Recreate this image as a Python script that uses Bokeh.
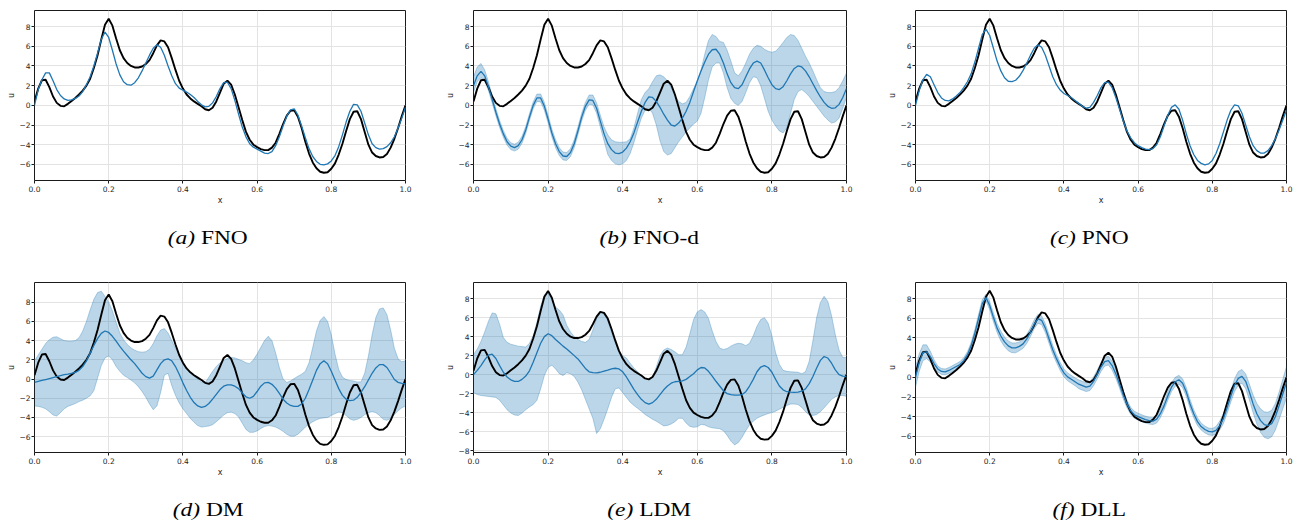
from bokeh.plotting import figure
from bokeh.models import Range1d, FixedTicker, Div
from bokeh.layouts import column, row
from bokeh.embed import file_html
from bokeh.resources import INLINE

# ---------------- data ----------------
X = [round(i * 0.01, 2) for i in range(101)]

TRUE_U = [0.4, 1.7, 2.55, 2.6, 1.85, 0.9, 0.25, -0.05, -0.1, 0.15,
          0.45, 0.75, 1.1, 1.5, 2.0, 2.7, 3.8, 5.1, 6.7, 8.2,
          8.8, 8.1, 6.8, 5.6, 4.8, 4.3, 4.0, 3.85, 3.85, 3.95,
          4.2, 4.6, 5.3, 6.1, 6.6, 6.5, 5.9, 4.8, 3.6, 2.5,
          1.7, 1.1, 0.7, 0.4, 0.15, -0.1, -0.4, -0.5, -0.25, 0.4,
          1.3, 2.2, 2.5, 2.1, 1.1, -0.2, -1.5, -2.7, -3.5, -4.0,
          -4.25, -4.45, -4.55, -4.55, -4.3, -3.8, -2.9, -1.9, -1.05, -0.55,
          -0.5, -1.15, -2.3, -3.7, -4.9, -5.8, -6.4, -6.75, -6.85, -6.8,
          -6.45, -5.9, -5.0, -3.9, -2.6, -1.4, -0.65, -0.6, -1.4, -2.7,
          -4.0, -4.8, -5.15, -5.3, -5.25, -4.95, -4.3, -3.4, -2.3, -1.1,
          0.0]

FNO_MEAN = [0.0, 1.6, 2.6, 3.3, 3.3, 2.5, 1.6, 1.0, 0.65, 0.5,
            0.55, 0.7, 0.95, 1.4, 2.1, 2.9, 4.0, 5.3, 6.7, 7.45,
            6.9, 5.6, 4.2, 3.1, 2.4, 2.1, 2.05, 2.3, 2.8, 3.5,
            4.3, 5.1, 5.8, 6.15, 5.9, 5.1, 4.0, 3.0, 2.2, 1.75,
            1.55, 1.35, 1.1, 0.8, 0.4, 0.05, -0.15, -0.1, 0.25, 0.9,
            1.7, 2.3, 2.35, 1.7, 0.5, -0.9, -2.2, -3.2, -3.9, -4.25,
            -4.45, -4.65, -4.85, -4.9, -4.7, -4.1, -3.2, -2.1, -1.1, -0.45,
            -0.35, -1.0, -2.1, -3.3, -4.4, -5.2, -5.7, -6.0, -6.05, -5.95,
            -5.65, -5.1, -4.2, -3.0, -1.7, -0.6, 0.1, 0.05, -0.6, -1.8,
            -3.0, -3.9, -4.3, -4.45, -4.4, -4.2, -3.8, -3.2, -2.3, -1.3,
            -0.2]

FNOD_MEAN = [2.0, 3.0, 3.45, 3.0, 1.9, 0.6, -0.7, -1.9, -2.9, -3.7,
             -4.15, -4.3, -4.1, -3.5, -2.5, -1.2, 0.0, 0.75, 0.75, -0.1,
             -1.4, -2.8, -3.9, -4.7, -5.15, -5.2, -4.8, -3.9, -2.6, -1.2,
             -0.1, 0.55, 0.5, -0.3, -1.6, -2.9, -3.9, -4.5, -4.85, -4.9,
             -4.75, -4.35, -3.7, -2.8, -1.7, -0.6, 0.3, 0.85, 0.8, 0.4,
             -0.2, -0.9, -1.5, -2.0, -2.1, -1.8, -1.3, -0.6, 0.3, 1.4,
             2.5, 3.5, 4.4, 5.2, 5.65, 5.7, 5.2, 4.3, 3.2, 2.3,
             1.8, 1.7, 2.1, 2.9, 3.7, 4.3, 4.5, 4.3, 3.6, 2.8,
             2.1, 1.7, 1.6, 1.9, 2.5, 3.2, 3.75, 4.0, 3.9, 3.5,
             2.9, 2.2, 1.5, 0.85, 0.3, -0.1, -0.3, -0.25, 0.1, 0.8,
             1.7]
FNOD_LOW = [1.3, 2.4, 2.8, 2.5, 1.5, 0.25, -1.05, -2.25, -3.25, -4.05,
            -4.5, -4.65, -4.45, -3.85, -2.85, -1.55, -0.35, 0.4, 0.35, -0.5,
            -1.8, -3.2, -4.3, -5.1, -5.55, -5.6, -5.2, -4.3, -3.0, -1.6,
            -0.5, 0.1, 0.05, -0.8, -2.2, -3.6, -5.0, -5.6, -5.95, -6.05,
            -5.95, -5.6, -4.9, -3.8, -2.5, -1.3, -0.5, -0.3, -0.8, -2.0,
            -3.6, -4.7, -5.05, -4.9, -4.3, -3.7, -3.2, -2.7, -2.3, -1.9,
            -1.6, -0.8, 0.8, 2.6, 3.9, 4.3, 4.3, 3.3, 1.8, 0.7,
            0.2, 0.0, 0.4, 1.3, 2.3, 2.9, 2.8, 2.0, 0.7, -0.6,
            -1.5, -2.1, -2.6, -2.8, -2.3, -0.8, 0.6, 1.4, 1.6, 1.3,
            0.9, 0.4, -0.1, -0.6, -1.1, -1.5, -1.8, -1.7, -1.3, -0.3,
            0.8]
FNOD_HIGH = [2.9, 3.9, 4.25, 3.6, 2.4, 1.0, -0.35, -1.55, -2.55, -3.35,
             -3.8, -3.95, -3.75, -3.15, -2.15, -0.85, 0.35, 1.15, 1.15, 0.3,
             -1.0, -2.4, -3.5, -4.3, -4.75, -4.8, -4.4, -3.5, -2.2, -0.8,
             0.3, 1.05, 1.05, 0.25, -1.0, -2.2, -3.0, -3.5, -3.7, -3.75,
             -3.75, -3.7, -3.4, -2.3, -0.8, 0.6, 1.3, 1.7, 2.4, 3.0,
             3.1, 2.9, 2.5, 1.8, 1.0, 0.4, 0.15, 0.3, 0.9, 1.7,
             2.4, 3.6, 5.2, 6.6, 7.2, 7.0, 6.5, 6.4, 5.6, 4.5,
             3.3, 3.0, 3.5, 4.3, 5.2, 5.8, 6.1, 6.0, 5.7, 5.5,
             5.4, 5.5, 5.9, 6.4, 6.9, 7.2, 7.1, 6.6, 5.8, 5.0,
             4.3, 3.5, 2.6, 1.8, 1.4, 1.3, 1.3, 1.4, 1.8, 2.5,
             3.3]

PNO_MEAN = [0.0, 1.5, 2.6, 3.15, 2.9, 2.1, 1.3, 0.75, 0.5, 0.45,
            0.65, 0.95, 1.3, 1.8, 2.4, 3.2, 4.4, 5.8, 7.2, 7.75,
            7.1, 5.8, 4.5, 3.5, 2.8, 2.45, 2.4, 2.55, 2.95, 3.55,
            4.3, 5.1, 5.8, 6.15, 5.9, 5.1, 4.0, 2.9, 2.1, 1.55,
            1.2, 1.0, 0.8, 0.5, 0.2, -0.1, -0.28, -0.2, 0.3, 1.0,
            1.8, 2.3, 2.35, 1.8, 0.8, -0.4, -1.6, -2.6, -3.3, -3.8,
            -4.1, -4.3, -4.45, -4.5, -4.4, -4.0, -3.2, -2.1, -1.0, -0.2,
            0.05, -0.4, -1.5, -2.9, -4.1, -5.0, -5.6, -5.9, -6.05, -5.95,
            -5.6, -4.9, -3.9, -2.7, -1.5, -0.5, 0.05, -0.05, -0.8, -2.0,
            -3.2, -4.1, -4.6, -4.85, -4.85, -4.6, -4.1, -3.4, -2.5, -1.5,
            -0.5]

DM_MEAN = [-0.35, -0.25, -0.15, -0.05, 0.05, 0.15, 0.25, 0.35, 0.45, 0.5,
           0.6, 0.7, 0.9, 1.3, 1.9, 2.7, 3.5, 4.2, 4.75, 5.0,
           4.85, 4.45, 3.95, 3.4, 2.9, 2.45, 2.0, 1.6, 1.1, 0.6,
           0.25, 0.1, 0.3, 0.95, 1.6, 2.0, 2.1, 1.9, 1.3, 0.5,
           -0.4, -1.2, -1.9, -2.45, -2.8, -2.95, -2.85, -2.55, -2.1, -1.6,
           -1.1, -0.75, -0.6, -0.6, -0.75, -1.0, -1.45, -1.85, -2.0, -1.8,
           -1.3, -0.75, -0.4, -0.35, -0.55, -0.95, -1.5, -2.1, -2.5, -2.75,
           -2.85, -2.85, -2.6, -2.0, -1.1, -0.1, 0.9, 1.6, 1.9, 1.6,
           0.8, -0.1, -1.0, -1.7, -2.1, -2.25, -2.2, -1.9, -1.4, -0.8,
           -0.1, 0.6, 1.15, 1.5, 1.5, 1.2, 0.6, -0.05, -0.35, -0.45,
           -0.5]
DM_HIGH = [1.9, 2.5, 3.1, 3.7, 4.1, 4.35, 4.4, 4.2, 4.0, 3.95,
           3.95, 4.0, 4.3, 5.0, 6.0, 7.2, 8.3, 9.0, 9.15, 8.6,
           8.0, 7.1, 5.9, 4.8, 4.1, 3.6, 3.25, 3.0, 2.85, 2.8,
           2.85, 3.1, 3.7, 4.5, 5.1, 5.25, 4.8, 4.0, 3.2, 2.5,
           1.8, 1.1, 0.7, 0.35, 0.0, -0.35, -0.4, 0.2, 0.8, 1.3,
           1.7, 1.95, 2.15, 2.25, 2.2, 2.05, 1.9, 1.7, 1.6, 2.0,
           2.6, 3.3, 4.0, 4.45, 4.0, 2.7, 1.2, 0.0, -0.35, -0.2,
           0.05, 0.3, 0.5, 0.8, 1.7, 3.3, 5.0, 6.1, 6.5, 6.0,
           4.6, 2.6, 1.0, 0.2, -0.05, -0.15, -0.2, -0.3, -0.3, 0.6,
           2.4, 4.6, 6.4, 7.3, 7.4, 6.7, 5.1, 3.2, 2.1, 1.8,
           1.9]
DM_LOW = [-2.8, -2.85, -2.95, -3.1, -3.4, -3.75, -3.85, -3.5, -3.1, -2.85,
          -2.7, -2.55, -2.35, -2.2, -2.0, -1.75, -1.2, 0.1, 1.4, 2.2,
          2.4, 2.0, 1.3, 0.8, 0.4, 0.15, -0.1, -0.4, -0.8, -1.3,
          -1.9, -2.6, -3.2, -2.8, -1.4, 0.4, 0.6, -0.7, -1.7, -2.5,
          -3.1, -3.6, -4.1, -4.5, -4.85, -5.0, -4.95, -4.9, -4.75, -4.45,
          -4.1, -3.75, -3.5, -3.45, -3.6, -3.95, -4.6, -5.25, -5.55, -5.55,
          -5.4, -5.15, -4.95, -4.85, -4.9, -5.0, -5.2, -5.45, -5.75, -5.95,
          -5.95, -5.75, -5.4, -5.0, -4.7, -4.45, -4.25, -4.1, -4.05, -4.0,
          -3.8, -3.6, -3.45, -3.5, -3.8, -4.15, -4.3, -4.2, -4.0, -3.7,
          -3.5, -3.4, -3.5, -3.8, -4.2, -4.3, -4.1, -3.7, -3.3, -3.0,
          -2.8]

LDM_MEAN = [0.0, 0.45, 0.95, 1.55, 2.05, 2.15, 1.7, 0.95, 0.25, -0.25,
            -0.55, -0.72, -0.72, -0.5, -0.15, 0.4, 1.3, 2.3, 3.3, 4.0,
            4.3, 4.1, 3.7, 3.35, 3.0, 2.7, 2.35, 2.0, 1.65, 1.15,
            0.65, 0.3, 0.2, 0.18, 0.25, 0.38, 0.48, 0.6, 0.67, 0.6,
            0.3, -0.25, -0.9, -1.55, -2.1, -2.6, -2.95, -3.1, -2.95, -2.6,
            -2.1, -1.6, -1.2, -0.9, -0.75, -0.7, -0.65, -0.5, -0.2, 0.1,
            0.5, 0.75, 0.7, 0.35, -0.15, -0.7, -1.2, -1.7, -2.0, -2.1,
            -2.15, -2.15, -2.1, -1.8, -1.2, -0.5, 0.3, 0.8, 0.95, 0.75,
            0.25, -0.5, -1.2, -1.6, -1.8, -1.85, -1.86, -1.85, -1.75, -1.5,
            -0.95, -0.2, 0.7, 1.5, 1.9, 1.75, 1.2, 0.5, 0.0, -0.15,
            -0.2]
LDM_HIGH = [2.1, 2.7, 3.5, 4.5, 5.6, 6.5, 6.4, 5.3, 3.9, 3.4,
            3.2, 3.1, 3.0, 2.95, 2.9, 3.3, 4.1, 5.5, 7.2, 8.4,
            8.6, 7.8, 7.1, 6.8, 6.3, 5.2, 4.5, 4.0, 3.7, 3.5,
            3.4, 3.7, 4.7, 5.9, 6.55, 6.4, 5.7, 4.5, 3.4, 2.5,
            2.0, 1.75, 1.2, 0.7, 0.3, -0.1, -0.4, -0.5, -0.2, 0.8,
            2.0, 2.6, 2.8, 2.65, 2.4, 2.1, 2.1, 2.9, 4.3, 5.8,
            6.6, 6.85, 6.6, 5.9, 4.6, 3.5, 2.8, 2.65, 2.75, 3.0,
            3.2, 3.3, 3.25, 3.05, 3.3, 4.1, 5.1, 5.8, 6.0, 5.4,
            4.1, 2.3, 1.1, 0.45, 0.35, 0.3, 0.28, 0.25, 0.1, 0.3,
            1.4, 3.6, 6.0, 7.6, 8.25, 7.7, 6.2, 4.2, 2.6, 1.8,
            1.8]
LDM_LOW = [-1.9, -2.1, -2.2, -2.25, -2.3, -2.35, -2.4, -2.7, -3.2, -3.7,
           -4.05, -4.25, -4.3, -4.05, -3.7, -3.4, -3.15, -2.7, -1.5, -0.1,
           0.75, 1.0, 0.6, 0.1, -0.1, 0.2, 0.1, -0.2, -0.8, -1.6,
           -2.6, -3.6, -4.6, -6.2, -5.7, -4.7, -3.6, -2.4, -1.5, -1.4,
           -1.9, -2.4, -2.9, -3.25, -3.55, -3.85, -4.2, -4.45, -4.7, -4.9,
           -5.15, -5.4, -5.35, -5.2, -4.95, -4.6, -4.6, -5.1, -5.45, -5.55,
           -5.5, -5.25, -5.3, -5.5, -5.6, -5.65, -5.7, -5.9, -6.4, -7.0,
           -7.4, -7.15, -6.6, -5.9, -5.3, -4.9, -4.6, -4.4, -4.25, -4.1,
           -4.0, -3.85, -3.65, -3.45, -3.25, -3.1, -3.1, -3.15, -3.45, -3.9,
           -4.25, -4.3, -4.2, -3.9, -3.5, -3.05, -2.6, -2.35, -2.2, -2.2,
           -2.3]

DLL_MEAN = [0.0, 1.5, 2.5, 2.6, 2.1, 1.4, 0.85, 0.6, 0.55, 0.7,
            0.9, 1.1, 1.3, 1.7, 2.3, 3.2, 4.5, 6.0, 7.5, 8.1,
            7.3, 6.1, 5.0, 4.2, 3.6, 3.2, 3.0, 3.0, 3.15, 3.4,
            3.9, 4.6, 5.4, 5.95, 5.8, 5.0, 3.9, 2.8, 1.9, 1.1,
            0.45, 0.05, -0.2, -0.45, -0.7, -0.85, -1.0, -0.9, -0.4, 0.3,
            1.05, 1.6, 1.7, 1.2, 0.35, -0.7, -1.8, -2.7, -3.4, -3.8,
            -4.0, -4.15, -4.3, -4.4, -4.45, -4.25, -3.7, -2.9, -1.9, -1.0,
            -0.45, -0.25, -0.6, -1.5, -2.7, -3.7, -4.5, -5.0, -5.3, -5.5,
            -5.55, -5.4, -4.9, -4.2, -3.1, -1.9, -0.8, -0.1, 0.1, -0.4,
            -1.5, -2.7, -3.7, -4.4, -4.8, -4.9, -4.7, -4.0, -2.9, -1.7,
            -0.5]
DLL_SPREAD = [1.0, 0.9, 0.8, 0.7, 0.55, 0.4, 0.3, 0.3, 0.3, 0.3,
              0.3, 0.3, 0.3, 0.3, 0.3, 0.35, 0.35, 0.4, 0.4, 0.35,
              0.4, 0.45, 0.45, 0.5, 0.5, 0.5, 0.5, 0.5, 0.45, 0.45,
              0.45, 0.45, 0.45, 0.45, 0.45, 0.45, 0.45, 0.45, 0.4, 0.4,
              0.4, 0.4, 0.4, 0.4, 0.45, 0.45, 0.45, 0.45, 0.45, 0.45,
              0.45, 0.45, 0.45, 0.45, 0.45, 0.4, 0.4, 0.4, 0.35, 0.35,
              0.35, 0.35, 0.35, 0.35, 0.35, 0.4, 0.4, 0.4, 0.45, 0.45,
              0.45, 0.45, 0.45, 0.45, 0.45, 0.4, 0.4, 0.35, 0.35, 0.35,
              0.35, 0.4, 0.45, 0.5, 0.55, 0.6, 0.65, 0.7, 0.7, 0.75,
              0.8, 0.9, 1.05, 1.2, 1.3, 1.35, 1.35, 1.35, 1.4, 1.5,
              1.6]

X_TICKS = [0.0, 0.2, 0.4, 0.6, 0.8, 1.0]
X_LABELS = ["0.0", "0.2", "0.4", "0.6", "0.8", "1.0"]
Y_TICKS = [-8, -6, -4, -2, 0, 2, 4, 6, 8]
Y_LABELS = ["\u22128", "\u22126", "\u22124", "\u22122", "0", "2", "4", "6", "8"]

CAPTIONS = [("(a)", "FNO"), ("(b)", "FNO-d"), ("(c)", "PNO"),
            ("(d)", "DM"), ("(e)", "LDM"), ("(f)", "DLL")]

BLUE = "#1f77b4"
TXT = "#262626"


def panel(mean, yr, bl, br, fw, band=None, yt=Y_TICKS[1:]):
    p = figure(frame_width=fw, frame_height=170,
               x_range=Range1d(0, 1), y_range=Range1d(*yr),
               output_backend="svg", toolbar_location=None,
               min_border_left=bl, min_border_right=br,
               min_border_top=10, min_border_bottom=25)
    p.grid.grid_line_color = "#e3e3e3"
    p.grid.grid_line_width = 1
    p.outline_line_color = "#1a1a1a"
    p.outline_line_width = 1
    if band is not None:
        lo, hi = band
        p.varea(x=X, y1=lo, y2=hi, fill_color=BLUE, fill_alpha=0.3)
        p.line(X, lo, line_color=BLUE, line_alpha=0.3, line_width=1)
        p.line(X, hi, line_color=BLUE, line_alpha=0.3, line_width=1)
    p.line(X, TRUE_U, line_color="black", line_width=1.9)
    p.line(X, mean, line_color=BLUE, line_width=1.3)
    p.xaxis.ticker = FixedTicker(ticks=X_TICKS)
    p.xaxis.major_label_overrides = dict(zip(X_TICKS, X_LABELS))
    p.yaxis.ticker = FixedTicker(ticks=list(yt))
    p.yaxis.major_label_overrides = dict(zip(Y_TICKS, Y_LABELS))
    p.xaxis.axis_label = "x"
    p.yaxis.axis_label = "u"
    for ax in (p.xaxis[0], p.yaxis[0]):
        ax.axis_line_color = None
        ax.major_tick_line_color = "#1a1a1a"
        ax.major_tick_out = 3
        ax.major_tick_in = 0
        ax.minor_tick_line_color = None
        ax.major_label_text_font = "DejaVu Sans"
        ax.major_label_text_font_size = "7.5px"
        ax.major_label_text_color = TXT
        ax.axis_label_text_font = "DejaVu Sans"
        ax.axis_label_text_font_size = "8px"
        ax.axis_label_text_font_style = "normal"
        ax.axis_label_text_color = TXT
    p.xaxis.major_label_standoff = 2
    p.xaxis.axis_label_standoff = 1
    p.yaxis.major_label_standoff = 1
    p.yaxis.axis_label_standoff = 0
    return p


def caption(i, w, h):
    it, rest = CAPTIONS[i]
    html = (f"<div style=\"width:{w}px;text-align:center;padding-top:21px;\">"
            "<span style=\"display:inline-block;transform:scaleX(1.3);transform-origin:50% 50%;"
            "font-family:'Liberation Serif',serif;font-size:18px;line-height:20px;color:#000;white-space:nowrap;\">"
            f"<i>{it}</i> {rest}</span></div>")
    return Div(text=html, width=w, height=h, margin=0)


YR = (-7.64, 9.64)
dll_lo = [m - s for m, s in zip(DLL_MEAN, DLL_SPREAD)]
dll_hi = [m + s for m, s in zip(DLL_MEAN, DLL_SPREAD)]

pa = panel(FNO_MEAN, YR, 34, 38, 371)
pb = panel(FNOD_MEAN, YR, 30, 39, 373, band=(FNOD_LOW, FNOD_HIGH))
pc = panel(PNO_MEAN, YR, 30, 11, 371)
pd = panel(DM_MEAN, (-7.65, 10.05), 34, 38, 371, band=(DM_LOW, DM_HIGH))
pe = panel(LDM_MEAN, (-8.2, 9.7), 30, 39, 373, band=(LDM_LOW, LDM_HIGH), yt=Y_TICKS)
pf = panel(DLL_MEAN, YR, 30, 11, 371, band=(dll_lo, dll_hi))

r1 = row(pa, pb, pc, spacing=0)
c1 = row(caption(0, 416, 65), caption(1, 466, 65), caption(2, 415, 65), spacing=0)
r2 = row(pd, pe, pf, spacing=0)
c2 = row(caption(3, 416, 50), caption(4, 466, 50), caption(5, 415, 50), spacing=0)
layout = column(r1, c1, r2, c2, spacing=0)

open("out.html", "w").write(file_html(layout, INLINE))
